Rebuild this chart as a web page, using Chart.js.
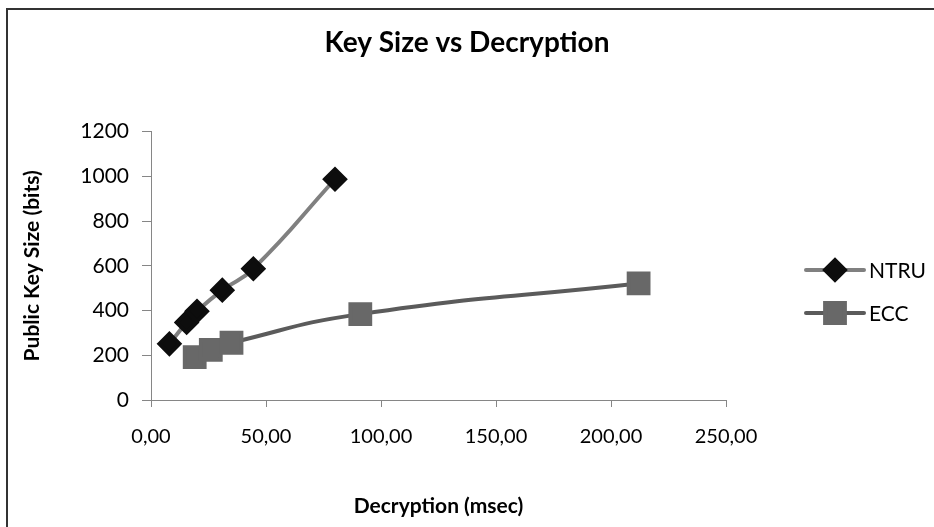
<!DOCTYPE html>
<html>
<head>
<meta charset="utf-8">
<script src="https://cdn.jsdelivr.net/npm/chart.js@4"></script>
<style>
  html, body { margin: 0; padding: 0; background: #fff; }
  #wrap { width: 934px; height: 527px; }
</style>
</head>
<body>
<div id="wrap"><canvas id="keyChart" width="934" height="527"></canvas></div>
<script>
// data
const ntruTime = [8, 15.5, 20, 31, 44.5, 80];
const ntruKey = [251, 347, 397, 491, 587, 987];
const eccTime = [19, 26, 35, 91, 212];
const eccKey = [192, 224, 256, 384, 521];
const xTicks = [0, 50, 100, 150, 200, 250];
const yTicks = [0, 200, 400, 600, 800, 1000, 1200];

const toPts = (xs, ys) => xs.map((x, i) => ({ x, y: ys[i] }));
const FONT = 'Lato, "Open Sans", sans-serif';

// white background + frame like the Excel chart border
const frame = {
  id: 'frame',
  beforeDraw(chart) {
    const c = chart.ctx;
    c.save();
    c.fillStyle = '#fff';
    c.fillRect(0, 0, chart.width, chart.height);
    c.strokeStyle = '#333';
    c.lineWidth = 2;
    c.beginPath();
    c.moveTo(7, chart.height);
    c.lineTo(7, 9);
    c.lineTo(chart.width, 9);
    c.stroke();
    c.restore();
  }
};

// legend on the right: line + marker + name
const sideLegend = {
  id: 'sideLegend',
  afterDraw(chart) {
    const c = chart.ctx;
    chart.data.datasets.forEach((ds, i) => {
      const y = 270 + i * 43;
      c.save();
      c.strokeStyle = ds.borderColor;
      c.lineWidth = ds.borderWidth;
      c.lineCap = 'round';
      c.beginPath();
      c.moveTo(806, y);
      c.lineTo(864, y);
      c.stroke();
      c.fillStyle = ds.pointBackgroundColor;
      c.strokeStyle = ds.pointBorderColor;
      Chart.helpers.drawPoint(c, {
        pointStyle: ds.pointStyle, radius: ds.pointRadius, rotation: 0, borderWidth: 1
      }, 835, y);
      c.fillStyle = '#000';
      c.font = '21px ' + FONT;
      c.textBaseline = 'middle';
      c.fillText(ds.label, 869, y + 1);
      c.restore();
    });
  }
};

new Chart(document.getElementById('keyChart'), {
  type: 'scatter',
  data: {
    datasets: [
      {
        label: 'NTRU',
        data: toPts(ntruTime, ntruKey),
        showLine: true,
        tension: 0.5,
        borderColor: '#808080',
        borderWidth: 4,
        pointStyle: 'rectRot',
        pointRadius: 10,
        pointBackgroundColor: '#0d0d0d',
        pointBorderColor: '#0d0d0d'
      },
      {
        label: 'ECC',
        data: toPts(eccTime, eccKey),
        showLine: true,
        tension: 0.5,
        borderColor: '#5b5b5b',
        borderWidth: 4,
        pointStyle: 'rect',
        pointRadius: 14,
        pointBackgroundColor: '#686868',
        pointBorderColor: '#686868'
      }
    ]
  },
  options: {
    responsive: false,
    animation: false,
    layout: { padding: 0 },
    plugins: {
      legend: { display: false },
      tooltip: { enabled: false },
      title: {
        display: true,
        text: 'Key Size vs Decryption',
        color: '#000',
        font: { family: FONT, size: 28, weight: 'bold' },
        padding: { top: 26, bottom: 72 }
      }
    },
    scales: {
      x: {
        type: 'linear',
        min: 0,
        max: 250,
        afterFit(s) { s.height = 127; },
        afterBuildTicks(s) { s.ticks = xTicks.map(v => ({ value: v })); },
        ticks: {
          color: '#000',
          font: { family: FONT, size: 20 },
          padding: 18,
          callback: v => v.toFixed(2).replace('.', ',')
        },
        grid: { drawOnChartArea: false, drawTicks: true, tickLength: 7, color: '#868686' },
        border: { color: '#868686', width: 1 },
        title: {
          display: true,
          text: 'Decryption (msec)',
          color: '#000',
          font: { family: FONT, size: 21, weight: 'bold' },
          padding: { top: 0, bottom: 8 }
        }
      },
      y: {
        type: 'linear',
        min: 0,
        max: 1200,
        afterFit(s) { s.width = 151; },
        afterBuildTicks(s) { s.ticks = yTicks.map(v => ({ value: v })); },
        ticks: {
          color: '#000',
          font: { family: FONT, size: 21 },
          padding: 13,
          callback: v => String(v)
        },
        grid: { drawOnChartArea: false, drawTicks: true, tickLength: 9, color: '#868686' },
        border: { color: '#868686', width: 1 },
        title: {
          display: true,
          text: 'Public Key Size (bits)',
          color: '#000',
          font: { family: FONT, size: 21, weight: 'bold' },
          padding: { top: 20, bottom: 0 }
        }
      },
      // empty right-hand box that leaves room for the legend
      side: {
        type: 'linear',
        position: 'right',
        afterFit(s) { s.width = 208; },
        ticks: { display: false },
        grid: { display: false },
        border: { display: false }
      }
    }
  },
  plugins: [frame, sideLegend]
});
</script>
</body>
</html>
